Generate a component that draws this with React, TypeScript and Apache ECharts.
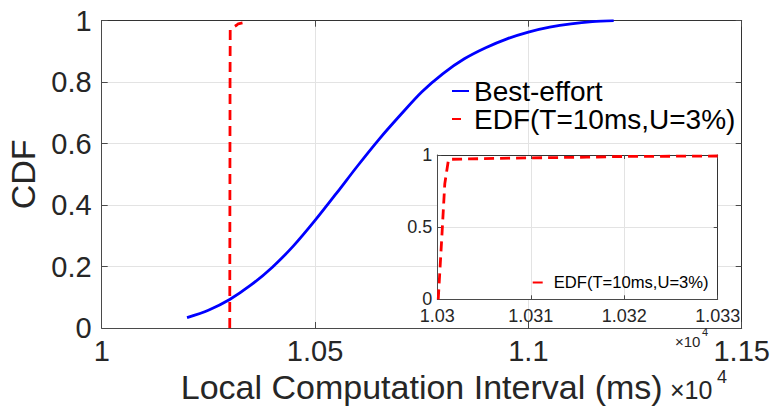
import React, { useEffect, useRef } from "react";
import * as echarts from "echarts";

// Best-effort CDF (x in ms, y = CDF)
const bestX = [10200, 10250, 10300, 10350, 10400, 10450, 10500, 10550, 10600, 10650, 10700, 10750, 10800, 10850, 10900, 10950, 11000, 11050, 11100, 11150, 11200];
const bestY = [0.034, 0.058, 0.093, 0.140, 0.198, 0.268, 0.350, 0.438, 0.528, 0.614, 0.693, 0.768, 0.828, 0.876, 0.912, 0.941, 0.963, 0.979, 0.990, 0.997, 1.0];

// EDF(T=10ms,U=3%) CDF
const edfX = [10300.1, 10300.5, 10300.8, 10301.2, 10305, 10310, 10316, 10320, 10330];
const edfY = [0, 0.45, 0.8, 0.97, 0.975, 0.98, 0.985, 0.99, 0.993];

const seriesNames = ["Best-effort", "EDF(T=10ms,U=3%)"];

// tick labels
const mainXLabels = ["1", "1.05", "1.1", "1.15"];
const mainYLabels = ["0", "0.2", "0.4", "0.6", "0.8", "1"];
const insetXLabels = ["1.03", "1.031", "1.032", "1.033"];
const insetYLabels = ["0", "0.5", "1"];

const FONT = "'Liberation Sans', Arial, Helvetica, sans-serif";
const TXT = "#262626";
const AX = "#4a4a4a";
const GRIDC = "#e3e3e3";
const HIDE_SYMBOL = { opacity: 0, color: "rgba(0,0,0,0)", borderWidth: 0 };

export default function App() {
  const ref = useRef<HTMLDivElement>(null);
  useEffect(() => {
    if (!ref.current) return;
    const chart = echarts.init(ref.current, undefined, { renderer: "svg" });
    const best = bestX.map((x, i) => [x, bestY[i]]);
    const edf = edfX.map((x, i) => [x, edfY[i]]);

    const boxAxisCommon = {
      axisLine: { show: true, lineStyle: { color: AX, width: 1 } },
      axisTick: { show: true, inside: true, length: 6, lineStyle: { color: AX } },
      axisLabel: { show: false },
      splitLine: { show: false },
    };

    const option: any = {
      animation: false,
      backgroundColor: "#fff",
      textStyle: { fontFamily: FONT },
      grid: [
        { left: 101.7, top: 20.7, width: 640, height: 307.3, containLabel: false, outerBoundsMode: "none" },
        {
          left: 437.3, top: 155, width: 280.4, height: 144.3, containLabel: false, outerBoundsMode: "none",
          show: true, backgroundColor: "#fff", borderWidth: 0, z: 10,
        },
      ],
      legend: [
        {
          data: [
            { name: seriesNames[0], itemStyle: HIDE_SYMBOL, lineStyle: { opacity: 1 } },
            { name: seriesNames[1], itemStyle: HIDE_SYMBOL, lineStyle: { type: [9, 30], opacity: 1 } },
          ],
          orient: "vertical",
          left: 451,
          top: 77,
          itemWidth: 17,
          itemHeight: 14,
          itemGap: 0,
          padding: 0,
          textStyle: { fontSize: 28, color: "#000", fontFamily: FONT },
          selectedMode: false,
        },
        {
          data: [{ name: "EDF inset", itemStyle: HIDE_SYMBOL, lineStyle: { type: [10, 30], opacity: 1 } }],
          formatter: () => seriesNames[1],
          orient: "vertical",
          left: 531.7,
          top: 274,
          itemWidth: 16,
          itemHeight: 12,
          padding: 0,
          z: 20,
          textStyle: { fontSize: 16.6, color: "#000", fontFamily: FONT },
          selectedMode: false,
        },
      ],
      xAxis: [
        {
          type: "value", gridIndex: 0, position: "bottom", min: 10000, max: 11500, interval: 500,
          axisLine: { show: true, onZero: false, lineStyle: { color: AX, width: 1 } },
          axisTick: { show: true, inside: true, length: 6, lineStyle: { color: AX } },
          axisLabel: {
            fontSize: 29, color: TXT, margin: 8, fontFamily: FONT,
            formatter: (v: number) => mainXLabels[Math.round((v - 10000) / 500)],
          },
          splitLine: { show: true, lineStyle: { color: GRIDC, width: 1 } },
          name: "Local Computation Interval (ms)",
          nameLocation: "middle",
          nameGap: 36,
          nameTextStyle: { fontSize: 34, color: TXT, fontFamily: FONT },
        },
        { type: "value", gridIndex: 0, position: "top", min: 10000, max: 11500, interval: 500, ...boxAxisCommon, axisLine: { show: true, onZero: false, lineStyle: { color: "#333", width: 1 } } },
        {
          type: "value", gridIndex: 1, position: "bottom", min: 10300, max: 10330, interval: 10, z: 11,
          axisLine: { show: true, onZero: false, lineStyle: { color: AX, width: 1 } },
          axisTick: { show: true, inside: true, length: 4, lineStyle: { color: AX } },
          axisLabel: {
            fontSize: 18, lineHeight: 16, color: TXT, margin: 9, fontFamily: FONT,
            formatter: (v: number) => insetXLabels[Math.round((v - 10300) / 10)],
          },
          splitLine: { show: true, lineStyle: { color: GRIDC, width: 1 } },
        },
        { type: "value", gridIndex: 1, position: "top", min: 10300, max: 10330, interval: 10, z: 11, ...boxAxisCommon, axisTick: { show: true, inside: true, length: 4, lineStyle: { color: AX } }, axisLine: { show: true, onZero: false, lineStyle: { color: "#333", width: 1 } } },
      ],
      yAxis: [
        {
          type: "value", gridIndex: 0, position: "left", min: 0, max: 1, interval: 0.2,
          axisLine: { show: true, onZero: false, lineStyle: { color: AX, width: 1 } },
          axisTick: { show: true, inside: true, length: 6, lineStyle: { color: AX } },
          axisLabel: {
            fontSize: 29, color: TXT, margin: 10, fontFamily: FONT,
            formatter: (v: number) => mainYLabels[Math.round(v / 0.2)],
          },
          splitLine: { show: true, lineStyle: { color: GRIDC, width: 1 } },
          name: "CDF",
          nameLocation: "middle",
          nameGap: 58,
          nameTextStyle: { fontSize: 34, color: TXT, fontFamily: FONT },
        },
        { type: "value", gridIndex: 0, position: "right", min: 0, max: 1, interval: 0.2, ...boxAxisCommon, axisLine: { show: true, onZero: false, lineStyle: { color: "#333", width: 1 } } },
        {
          type: "value", gridIndex: 1, position: "left", min: 0, max: 1, interval: 0.5, z: 11,
          axisLine: { show: true, onZero: false, lineStyle: { color: AX, width: 1 } },
          axisTick: { show: true, inside: true, length: 4, lineStyle: { color: AX } },
          axisLabel: {
            fontSize: 18, lineHeight: 13, color: TXT, margin: 5, fontFamily: FONT,
            formatter: (v: number) => insetYLabels[Math.round(v / 0.5)],
          },
          splitLine: { show: true, lineStyle: { color: GRIDC, width: 1 } },
        },
        { type: "value", gridIndex: 1, position: "right", min: 0, max: 1, interval: 0.5, z: 11, ...boxAxisCommon, axisTick: { show: true, inside: true, length: 4, lineStyle: { color: AX } }, axisLine: { show: true, onZero: false, lineStyle: { color: "#333", width: 1 } } },
      ],
      series: [
        {
          name: seriesNames[0], type: "line", xAxisIndex: 0, yAxisIndex: 0, data: best,
          showSymbol: false, symbol: "none", smooth: 0.3,
          lineStyle: { color: "#0000ff", width: 2.8 }, itemStyle: { color: "#0000ff" },
        },
        {
          name: seriesNames[1], type: "line", xAxisIndex: 0, yAxisIndex: 0, data: edf,
          showSymbol: false, symbol: "none",
          lineStyle: { color: "#ff0000", width: 2.8, type: [10, 6] }, itemStyle: { color: "#ff0000" },
        },
        {
          name: "EDF inset", type: "line", xAxisIndex: 2, yAxisIndex: 2, data: edf, z: 12,
          showSymbol: false, symbol: "none",
          lineStyle: { color: "#ff0000", width: 2.8, type: [10, 6] }, itemStyle: { color: "#ff0000" },
        },
      ],
      graphic: [
        { type: "text", left: 670, top: 377, z: 30, style: { text: "×10", font: `25px ${FONT}`, fill: TXT } },
        { type: "text", left: 717, top: 368, z: 30, style: { text: "4", font: `18px ${FONT}`, fill: TXT } },
        { type: "text", left: 675, top: 334, z: 30, style: { text: "×10", font: `15px ${FONT}`, fill: TXT } },
        { type: "text", left: 702, top: 326, z: 30, style: { text: "4", font: `11px ${FONT}`, fill: TXT } },
      ],
    };
    chart.setOption(option);
    return () => chart.dispose();
  }, []);
  return (
    <div
      ref={ref}
      style={{ position: "absolute", left: 0, top: 0, width: 773, height: 406, background: "#fff" }}
    />
  );
}
